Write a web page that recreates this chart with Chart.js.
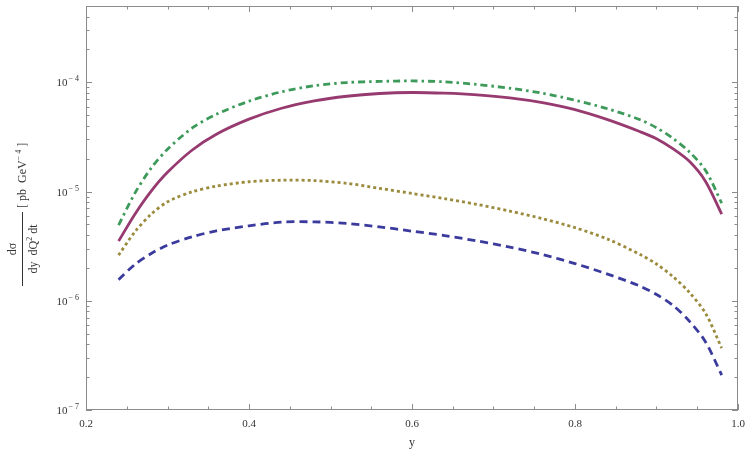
<!DOCTYPE html>
<html>
<head>
<meta charset="utf-8">
<script src="https://cdn.jsdelivr.net/npm/chart.js@4.4.1/dist/chart.umd.min.js"></script>
<style>
  html, body { margin: 0; padding: 0; background: #fff; }
  #wrap { width: 748px; height: 453px; position: relative; }
</style>
</head>
<body>
<div id="wrap"><canvas id="mainChart"></canvas></div>
<script>
const X_VALUES = [0.24, 0.26, 0.28, 0.30, 0.33, 0.36, 0.40, 0.44, 0.48, 0.52, 0.56, 0.60,
  0.64, 0.68, 0.72, 0.76, 0.80, 0.84, 0.88, 0.90, 0.92, 0.94, 0.96, 0.98];

const DASHDOT_GREEN = [4.93e-6, 9.67e-6, 1.64e-5, 2.44e-5, 3.80e-5, 5.10e-5, 6.72e-5, 8.20e-5,
  9.31e-5, 9.96e-5, 1.02e-4, 1.03e-4, 1.01e-4, 9.55e-5, 8.83e-5, 7.95e-5, 6.86e-5, 5.73e-5,
  4.55e-5, 3.84e-5, 3.08e-5, 2.32e-5, 1.57e-5, 7.83e-6];

const SOLID_MAGENTA = [3.52e-6, 6.21e-6, 1.01e-5, 1.50e-5, 2.39e-5, 3.35e-5, 4.60e-5, 5.79e-5,
  6.76e-5, 7.46e-5, 7.90e-5, 8.07e-5, 7.95e-5, 7.67e-5, 7.20e-5, 6.51e-5, 5.62e-5, 4.55e-5,
  3.53e-5, 3.05e-5, 2.47e-5, 1.90e-5, 1.245e-5, 6.21e-6];

const DOTTED_OLIVE = [2.62e-6, 4.28e-6, 6.21e-6, 8.05e-6, 9.94e-6, 1.12e-5, 1.23e-5, 1.27e-5,
  1.26e-5, 1.19e-5, 1.07e-5, 9.61e-6, 8.61e-6, 7.62e-6, 6.62e-6, 5.65e-6, 4.67e-6, 3.67e-6,
  2.65e-6, 2.17e-6, 1.67e-6, 1.20e-6, 7.72e-7, 3.69e-7];

const DASHED_BLUE = [1.56e-6, 2.15e-6, 2.71e-6, 3.23e-6, 3.85e-6, 4.37e-6, 4.86e-6, 5.25e-6,
  5.28e-6, 5.11e-6, 4.75e-6, 4.34e-6, 3.95e-6, 3.53e-6, 3.10e-6, 2.65e-6, 2.19e-6, 1.755e-6,
  1.36e-6, 1.14e-6, 9.1e-7, 6.55e-7, 4.22e-7, 2.09e-7];

const X_TICKS = [0.2, 0.4, 0.6, 0.8, 1.0];
const X_TICK_LABELS = ["0.2", "0.4", "0.6", "0.8", "1.0"];
const X_MINOR = [0.25, 0.3, 0.35, 0.45, 0.5, 0.55, 0.65, 0.7, 0.75, 0.85, 0.9, 0.95];
const Y_EXPONENTS = [-7, -6, -5, -4];

const X_MIN = 0.2, X_MAX = 1.0;
const Y_MIN = 1e-7, Y_MAX = 5e-4;

const SERIF = "'Liberation Serif', 'DejaVu Serif', serif";
const FRAME_COLOR = "#8c8c8c";
const TEXT_COLOR = "#333";

function toPoints(ys) {
  return X_VALUES.map((x, i) => ({ x: x, y: ys[i] }));
}

function lineSet(label, ys, color, dash) {
  return {
    label: label,
    data: toPoints(ys),
    borderColor: color,
    borderWidth: 2.8,
    borderDash: dash,
    borderCapStyle: "butt",
    pointRadius: 0,
    fill: false,
    tension: 0.3,
  };
}

// frame, inward ticks, tick labels and axis titles, Mathematica style
const framePlugin = {
  id: "frame",
  afterDraw(chart) {
    const ctx = chart.ctx;
    const a = chart.chartArea;
    const xs = chart.scales.x;
    const ys = chart.scales.y;

    ctx.save();
    ctx.strokeStyle = FRAME_COLOR;
    ctx.lineWidth = 1;
    ctx.strokeRect(a.left + 0.5, a.top + 0.5, a.right - a.left - 1, a.bottom - a.top - 1);

    function xTick(v, len) {
      const px = Math.round(xs.getPixelForValue(v)) + 0.5;
      ctx.beginPath();
      ctx.moveTo(px, a.bottom); ctx.lineTo(px, a.bottom - len);
      ctx.moveTo(px, a.top); ctx.lineTo(px, a.top + len);
      ctx.stroke();
    }
    function yTick(v, len) {
      const py = Math.round(ys.getPixelForValue(v)) + 0.5;
      ctx.beginPath();
      ctx.moveTo(a.left, py); ctx.lineTo(a.left + len, py);
      ctx.moveTo(a.right, py); ctx.lineTo(a.right - len, py);
      ctx.stroke();
    }

    X_TICKS.forEach((v) => xTick(v, 6));
    X_MINOR.forEach((v) => xTick(v, 3.5));
    Y_EXPONENTS.forEach((e) => {
      yTick(Math.pow(10, e), 6);
      for (let m = 2; m <= 9; m++) {
        const v = m * Math.pow(10, e);
        if (v <= Y_MAX) yTick(v, 3.5);
      }
    });

    ctx.fillStyle = TEXT_COLOR;
    ctx.font = "11px " + SERIF;
    ctx.textAlign = "center";
    ctx.textBaseline = "alphabetic";
    X_TICKS.forEach((v, i) => {
      ctx.fillText(X_TICK_LABELS[i], xs.getPixelForValue(v), a.bottom + 17);
    });

    Y_EXPONENTS.forEach((e) => {
      const py = ys.getPixelForValue(Math.pow(10, e));
      const sup = "\u2212 " + Math.abs(e);
      ctx.font = "8px " + SERIF;
      const supW = ctx.measureText(sup).width;
      const right = a.left - 7;
      ctx.textAlign = "left";
      ctx.fillText(sup, right - supW, py - 1);
      ctx.font = "11px " + SERIF;
      ctx.textAlign = "right";
      ctx.fillText("10", right - supW - 1, py + 4);
    });

    ctx.font = "12px " + SERIF;
    ctx.textAlign = "center";
    ctx.fillText("y", (a.left + a.right) / 2, a.bottom + 36);

    // rotated y title: fraction then units
    ctx.translate(22, 249);
    ctx.rotate(-Math.PI / 2);
    ctx.strokeStyle = TEXT_COLOR;
    ctx.beginPath();
    ctx.moveTo(-37, 0.5); ctx.lineTo(37, 0.5);
    ctx.stroke();

    ctx.font = "12px " + SERIF;
    ctx.textAlign = "center";
    ctx.fillText("d\u03c3", 0, -6);

    const parts = [["dy  dQ", 12, 0], ["2", 8, -5], [" dt", 12, 0]];
    let total = 0;
    parts.forEach((p) => { ctx.font = p[1] + "px " + SERIF; total += ctx.measureText(p[0]).width; });
    let cx = -total / 2;
    ctx.textAlign = "left";
    parts.forEach((p) => {
      ctx.font = p[1] + "px " + SERIF;
      ctx.fillText(p[0], cx, 15 + p[2]);
      cx += ctx.measureText(p[0]).width;
    });

    const unit = [["[ pb  GeV", 12, 0], ["\u2212 4", 8, -5], [" ]", 12, 0]];
    cx = 41;
    unit.forEach((p) => {
      ctx.font = p[1] + "px " + SERIF;
      ctx.fillText(p[0], cx, 4 + p[2]);
      cx += ctx.measureText(p[0]).width;
    });
    ctx.restore();
  },
};

function initChart() {
  const ctx = document.getElementById("mainChart").getContext("2d");
  new Chart(ctx, {
    type: "line",
    data: {
      datasets: [
        lineSet("dashed", DASHED_BLUE, "#3b3b9e", [8, 5]),
        lineSet("dotted", DOTTED_OLIVE, "#9a8b3d", [3, 3]),
        lineSet("solid", SOLID_MAGENTA, "#973a70", []),
        lineSet("dash-dot", DASHDOT_GREEN, "#3d9a5a", [7, 4, 2.5, 4]),
      ],
    },
    options: {
      responsive: true,
      maintainAspectRatio: false,
      animation: false,
      layout: { padding: { left: 86, right: 10, top: 6, bottom: 43 } },
      plugins: { legend: { display: false }, tooltip: { enabled: false } },
      scales: {
        x: { type: "linear", min: X_MIN, max: X_MAX, display: false },
        y: { type: "logarithmic", min: Y_MIN, max: Y_MAX, display: false },
      },
    },
    plugins: [framePlugin],
  });
}

document.addEventListener("DOMContentLoaded", initChart);
</script>
</body>
</html>
